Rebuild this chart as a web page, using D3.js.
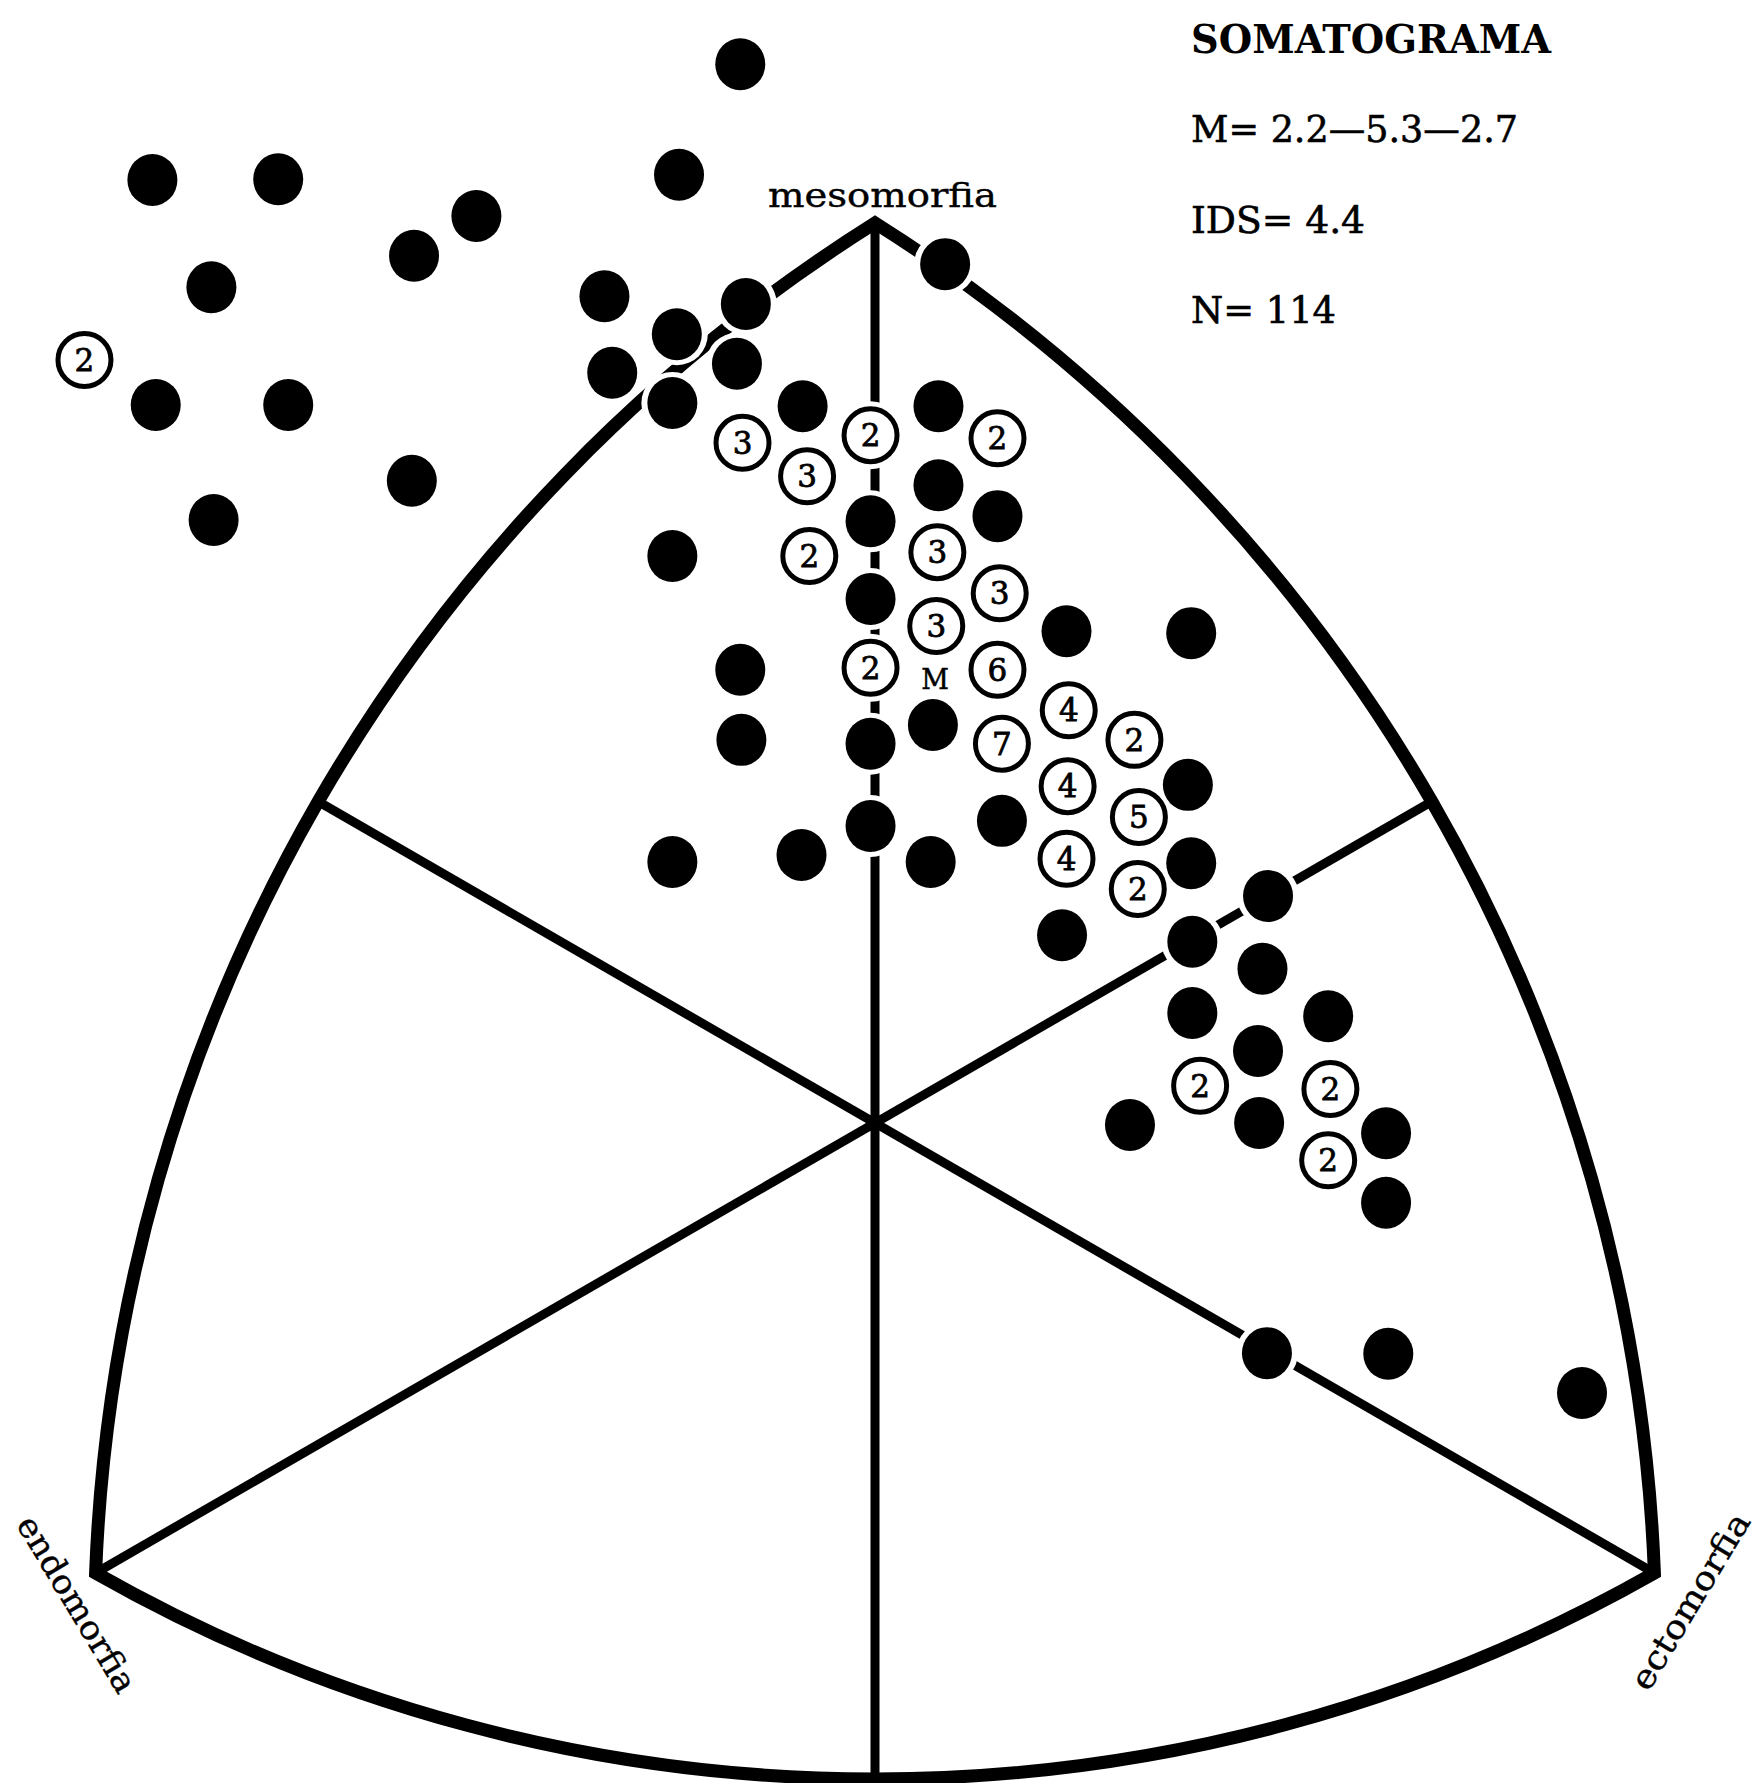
<!DOCTYPE html>
<html><head><meta charset="utf-8">
<script src="https://cdn.jsdelivr.net/npm/d3@7"></script>
<style>html,body{margin:0;padding:0;background:#fff}svg{display:block}</style>
</head><body><div id="chart"></div>
<script>
// Somatochart coordinates: X = ecto - endo, Y = 2*meso - (endo + ecto)
// Single subjects (filled dots)
const singleX = [-1.21,-6.49,-5.36,-1.76,-3.58,-4.14,-5.96,-2.43,-1.16,0.63,
  -1.78,-2.36,-1.24,-6.46,-5.27,-1.82,-0.65,0.57,-4.16,-5.94,
  0.57,1.10,-0.04,-1.82,-0.04,1.72,2.84,-1.21,0.52,-1.20,
  -0.04,2.81,-0.04,1.14,-1.82,-0.66,0.50,2.84,3.53,1.68,
  2.85,3.48,2.85,4.07,3.44,2.29,3.45,4.59,4.59,3.52,4.61,6.35];
const singleY = [16.47,14.67,14.68,14.75,14.11,13.49,13.00,12.86,12.74,13.36,
  12.27,11.67,11.81,11.17,11.17,11.20,11.15,11.15,9.99,9.38,
  9.92,9.44,9.36,8.82,8.15,7.65,7.62,7.05,6.19,5.96,
  5.90,5.26,4.62,4.70,4.06,4.17,4.06,4.04,3.53,2.92,
  2.82,2.40,1.71,1.66,1.12,-0.03,0.00,-0.16,-1.24,-3.58,-3.59,-4.20];
// Coincident subjects (open circles with count)
const groupX = [-7.10,-1.19,-0.61,-0.04,1.10,-0.59,0.56,1.12,0.55,-0.04,1.10,
  1.74,1.14,2.33,1.73,2.37,1.72,2.36,2.92,4.09,4.07];
const groupY = [11.87,10.58,10.06,10.70,10.65,8.82,8.88,8.24,7.73,7.08,7.05,
  6.42,5.90,5.96,5.24,4.76,4.11,3.64,0.58,0.53,-0.58];
const groupN = [2,3,3,2,2,2,3,3,3,2,6,4,7,2,4,5,4,2,2,2,2];
// Mean somatotype label
const meanLabel = ["M"];
const meanX = [0.54];
const meanY = [6.91];
// Apexes of the chart
const apexNames = ["endomorfia","mesomorfia","ectomorfia"];
const apexX = [-7, 0, 7];
const apexY = [-7, 14, -7];
// Info text
const infoLines = ["SOMATOGRAMA","M= 2.2\u20145.3\u20142.7","IDS= 4.4","N= 114"];

const W = 1764, H = 1783;
const svg = d3.select("#chart").append("svg").attr("width", W).attr("height", H)
  .style("background","#fff");

const x = d3.scaleLinear().domain([-7, 7]).range([95.6, 1654.4]);
const y = d3.scaleLinear().domain([-7, 14]).range([1573, 223]);

const serif = "'DejaVu Serif', 'Liberation Serif', serif";

const P = apexX.map((v,i)=>[x(v), y(apexY[i])]); // endo, meso, ecto
const C = [x(0), y(0)];
const R = Math.hypot(P[1][0]-C[0], P[1][1]-C[1]);

function arcRadius(a, b, sag){
  const half = Math.hypot(b[0]-a[0], b[1]-a[1]) / 2;
  return (half*half + sag*sag) / (2*sag);
}
const sagSide = 193, sagBottom = 206;
const rSide = arcRadius(P[0], P[1], sagSide);
const rBottom = arcRadius(P[2], P[0], sagBottom);

const g = svg.append("g");

// Radial lines: from each apex through centre to the opposite arc
const lines = [
  {from: P[1], dist: R/2 + sagBottom},
  {from: P[0], dist: R/2 + sagSide},
  {from: P[2], dist: R/2 + sagSide}
];
lines.forEach(l => {
  const dx = C[0]-l.from[0], dy = C[1]-l.from[1];
  const len = Math.hypot(dx, dy);
  const end = [C[0] + dx/len*l.dist, C[1] + dy/len*l.dist];
  g.append("line").attr("x1", l.from[0]).attr("y1", l.from[1])
    .attr("x2", end[0]).attr("y2", end[1])
    .attr("stroke", "#000").attr("stroke-width", 9);
});

// Outer Reuleaux-like frame
const framePath = `M${P[0][0]},${P[0][1]} A${rSide},${rSide} 0 0 1 ${P[1][0]},${P[1][1]}`
  + ` A${rSide},${rSide} 0 0 1 ${P[2][0]},${P[2][1]}`
  + ` A${rBottom},${rBottom} 0 0 1 ${P[0][0]},${P[0][1]} Z`;
g.append("path").attr("d", framePath).attr("fill", "none")
  .attr("stroke", "#000").attr("stroke-width", 13).attr("stroke-linejoin", "miter")
  .attr("stroke-miterlimit", 10);

// Halos (white gaps where marks cross lines)
const singles = singleX.map((v,i)=>({x:v, y:singleY[i]}));
const groups = groupX.map((v,i)=>({x:v, y:groupY[i], n:groupN[i]}));
const halo = svg.append("g");
halo.selectAll("circle.hs").data(singles).join("circle")
  .attr("cx", d=>x(d.x)).attr("cy", d=>y(d.y)).attr("r", 31).attr("fill", "#fff");
halo.selectAll("circle.hg").data(groups).join("circle")
  .attr("cx", d=>x(d.x)).attr("cy", d=>y(d.y)).attr("r", 34).attr("fill", "#fff");

// Filled dots
svg.append("g").selectAll("ellipse").data(singles).join("ellipse")
  .attr("cx", d=>x(d.x)).attr("cy", d=>y(d.y)).attr("rx", 25).attr("ry", 26)
  .attr("fill", "#000");

// Open circles with counts
const gg = svg.append("g").selectAll("g").data(groups).join("g")
  .attr("transform", d=>`translate(${x(d.x)},${y(d.y)})`);
gg.append("circle").attr("r", 26.5).attr("fill", "#fff")
  .attr("stroke", "#000").attr("stroke-width", 5);
gg.append("text").text(d=>d.n).attr("text-anchor", "middle")
  .attr("y", 11).attr("font-family", serif).attr("font-size", 31)
  .attr("fill", "#000").attr("stroke", "#000").attr("stroke-width", 0.8);

// Mean label
svg.append("g").selectAll("text").data(meanLabel).join("text")
  .text(d=>d).attr("x", (d,i)=>x(meanX[i])).attr("y", (d,i)=>y(meanY[i]) + 10)
  .attr("text-anchor", "middle").attr("font-family", serif).attr("font-size", 27)
  .attr("fill", "#000").attr("stroke", "#000").attr("stroke-width", 0.5);

// Apex labels
svg.append("text").text(apexNames[1]).attr("x", 768).attr("y", 207)
  .attr("font-family", serif).attr("font-size", 33)
  .attr("textLength", 229).attr("lengthAdjust", "spacingAndGlyphs")
  .attr("stroke", "#000").attr("stroke-width", 0.4);
svg.append("text").text(apexNames[0])
  .attr("transform", "translate(77,1604) rotate(59)")
  .attr("text-anchor", "middle").attr("dy", "0.35em")
  .attr("font-family", serif).attr("font-size", 33)
  .attr("textLength", 200).attr("lengthAdjust", "spacingAndGlyphs")
  .attr("stroke", "#000").attr("stroke-width", 0.4);
svg.append("text").text(apexNames[2])
  .attr("transform", "translate(1690,1601) rotate(-59)")
  .attr("text-anchor", "middle").attr("dy", "0.35em")
  .attr("font-family", serif).attr("font-size", 33)
  .attr("textLength", 200).attr("lengthAdjust", "spacingAndGlyphs")
  .attr("stroke", "#000").attr("stroke-width", 0.4);

// Info block
const infoY = [53, 142, 233, 323];
const infoLen = [360, 327, 174, 145];
svg.append("g").selectAll("text").data(infoLines).join("text")
  .text(d=>d).attr("x", 1191).attr("y", (d,i)=>infoY[i])
  .attr("font-family", serif).attr("font-size", (d,i)=> i===0 ? 40 : 37)
  .attr("font-weight", (d,i)=> i===0 ? "bold" : "normal")
  .attr("textLength", (d,i)=>infoLen[i]).attr("lengthAdjust", "spacingAndGlyphs")
  .attr("fill", "#000").attr("stroke", "#000").attr("stroke-width", (d,i)=> i===0 ? 0 : 0.6);
</script>
</body></html>
